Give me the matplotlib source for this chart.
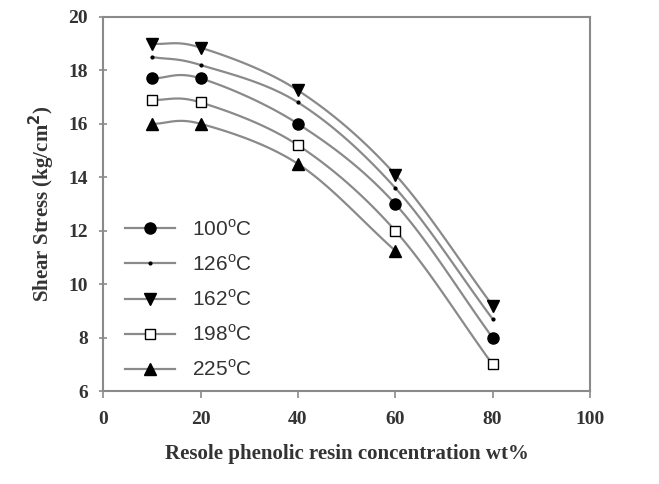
import numpy as np
import matplotlib.pyplot as plt

# resin concentration (wt%)
conc = [10, 20, 40, 60, 80]

# shear stress (kg/cm2) for each cure temperature
s100 = [17.7, 17.7, 16.0, 13.0, 8.0]
s126 = [18.5, 18.2, 16.8, 13.6, 8.7]
s162 = [19.0, 18.85, 17.25, 14.1, 9.2]
s198 = [16.9, 16.8, 15.2, 12.0, 7.0]
s225 = [16.0, 16.0, 14.5, 11.25]

labels = ['100$^{\\mathrm{o}}$C', '126$^{\\mathrm{o}}$C', '162$^{\\mathrm{o}}$C',
          '198$^{\\mathrm{o}}$C', '225$^{\\mathrm{o}}$C']


def smooth(x, y, n=30):
    '''Catmull-Rom curve through the points (like a smoothed excel line)'''
    x = np.asarray(x, float)
    y = np.asarray(y, float)
    px = np.concatenate([[2*x[0]-x[1]], x, [2*x[-1]-x[-2]]])
    py = np.concatenate([[2*y[0]-y[1]], y, [2*y[-1]-y[-2]]])
    t = np.linspace(0, 1, n)
    xs, ys = [], []
    for i in range(1, len(px)-2):
        for p, out in ((px, xs), (py, ys)):
            p0, p1, p2, p3 = p[i-1], p[i], p[i+1], p[i+2]
            out.extend(0.5*((2*p1) + (-p0+p2)*t + (2*p0-5*p1+4*p2-p3)*t**2
                            + (-p0+3*p1-3*p2+p3)*t**3))
    return xs, ys


plt.rcParams['mathtext.fontset'] = 'custom'
plt.rcParams['mathtext.rm'] = 'Liberation Sans'

fig = plt.figure(figsize=(6.59, 4.84), dpi=100)
ax = fig.add_axes([0.157, 0.192, 0.738, 0.773])

lc = '#8a8a8a'
series = [(s100, 'o', 'k', 8), (s126, '.', 'k', 4), (s162, 'v', 'k', 8),
          (s198, 's', 'white', 7), (s225, '^', 'k', 8)]
for (ys, mk, fc, ms), lab in zip(series, labels):
    xs = conc[:len(ys)]
    cx, cy = smooth(xs, ys)
    ax.plot(cx, cy, color=lc, lw=1.6, zorder=1)
    ax.plot(xs, ys, ls='none', marker=mk, mfc=fc, mec='k', ms=ms, mew=1, zorder=2)
    # legend handle
    ax.plot([], [], color=lc, lw=1.6, marker=mk, mfc=fc, mec='k', ms=ms, mew=1,
            label=lab)

ax.set_xlim(0, 100)
ax.set_ylim(6, 20)
ax.set_xticks(range(0, 101, 20))
ax.set_yticks(range(6, 21, 2))

for s in ax.spines.values():
    s.set_color(lc)
    s.set_linewidth(1.5)
ax.tick_params(axis='x', direction='out', length=5, color=lc, width=1.2, pad=9)
ax.tick_params(axis='y', direction='inout', length=6, color=lc, width=1.2, pad=8)
for t in ax.get_xticklabels() + ax.get_yticklabels():
    t.set_fontfamily('Liberation Serif')
    t.set_fontweight('bold')
    t.set_fontsize(14)
    t.set_color('#333333')

ax.set_xlabel('Resole phenolic resin concentration wt%', family='Liberation Serif',
              weight='bold', fontsize=15, color='#333333', labelpad=12)
ax.set_ylabel('Shear Stress (kg/cm$^{\\mathbf{2}}$)', family='Liberation Serif',
              weight='bold', fontsize=15, color='#333333', labelpad=8)

leg = ax.legend(loc='upper left', bbox_to_anchor=(0.045, 0.46), frameon=False,
                borderpad=0, borderaxespad=0, handlelength=2.4, handletextpad=0.8,
                labelspacing=0.69, prop={'family': 'Liberation Sans', 'size': 15})
for t in leg.get_texts():
    t.set_color('#333333')

fig.savefig('out.png', dpi=100)
